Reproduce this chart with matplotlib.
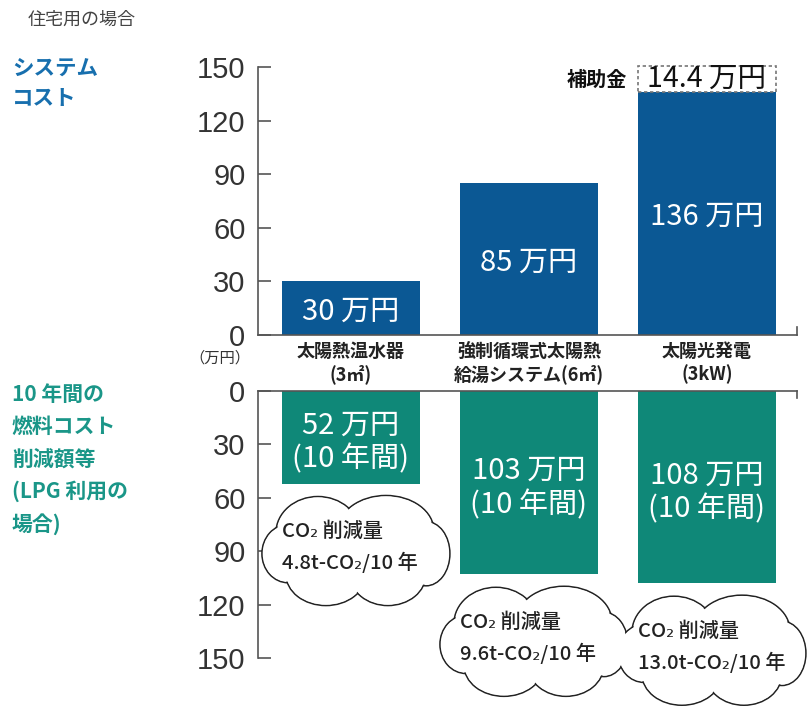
import matplotlib.pyplot as plt
from matplotlib.patches import Ellipse

plt.rcParams['font.family'] = ['Noto Sans CJK JP', 'DejaVu Sans']

# data
categories = ['太陽熱温水器\n(3㎡)', '強制循環式太陽熱\n給湯システム(6㎡)', '太陽光発電\n(3kW)']
system_cost = [30, 85, 136]          # 万円
subsidy = [0, 0, 14.4]               # 万円, dashed box on top
fuel_saving = [52, 103, 108]         # 万円 over 10 years
co2_cut = ['4.8', '9.6', '13.0']     # t-CO2 / 10 years
yticks = [0, 30, 60, 90, 120, 150]

BLUE = '#0b5894'
TEAL = '#0f8878'
AXIS = '#555555'
W, H = 808, 720


def fx(px):
    return px / W


def fy(py):
    return 1 - py / H


fig = plt.figure(figsize=(W / 100, H / 100), dpi=100)
ax1 = fig.add_axes([fx(258), fy(335), fx(797) - fx(258), fy(67) - fy(335)])
ax2 = fig.add_axes([fx(258), fy(658), fx(797) - fx(258), fy(391) - fy(658)])

x = list(range(len(categories)))
bw = 0.775
xlim = (-0.522, 2.506)

# ---- upper panel: system cost
ax1.bar(x, system_cost, bw, color=BLUE, zorder=2)
for i, (v, s) in enumerate(zip(system_cost, subsidy)):
    ax1.text(i, v / 2 - 2, f'{v} 万円', color='white', fontsize=21,
             ha='center', va='center', zorder=3)
    if s > 0:
        ax1.bar(i, s, bw, bottom=v, facecolor='white', edgecolor='#777777',
                linestyle=(0, (2.0, 1.6)), linewidth=1.2, clip_on=False, zorder=2)
        ax1.text(i, v + s / 2, f'{s} 万円', color='#111111', fontsize=20.5,
                 ha='center', va='center', zorder=3, clip_on=False)
        ax1.text(i - bw / 2 - 0.06, v + s / 2, '補助金', color='#111111',
                 fontsize=14.5, fontweight='bold', ha='right', va='center')

ax1.set_xlim(xlim)
ax1.set_ylim(0, 150)
ax1.set_xticks(x, categories, fontsize=13, fontweight='bold', color='#222222',
               linespacing=1.2)
ax1.tick_params(axis='x', length=0, pad=5)
ax1.set_yticks(yticks, [str(t) for t in yticks], fontfamily='Liberation Sans')
ax1.tick_params(axis='y', direction='in', length=9, width=1.2, color=AXIS,
                labelsize=21, labelcolor='#333333', pad=9)
for k in ['top', 'right']:
    ax1.spines[k].set_visible(False)
for k in ['left', 'bottom']:
    ax1.spines[k].set_color(AXIS)
    ax1.spines[k].set_linewidth(1.2)
ax1.plot([1, 1], [0, 0.028], transform=ax1.transAxes, color=AXIS, lw=1.2,
         clip_on=False)

# ---- lower panel: 10-year fuel cost saving
ax2.bar(x, fuel_saving, bw, color=TEAL, zorder=2)
for i, v in enumerate(fuel_saving):
    ax2.text(i, v / 2 + 3, f'{v} 万円\n(10 年間)', color='white', fontsize=21,
             ha='center', va='center', linespacing=1.15, zorder=3)
ax2.set_xlim(xlim)
ax2.set_ylim(150, 0)
ax2.set_xticks([])
ax2.set_yticks(yticks, [str(t) for t in yticks], fontfamily='Liberation Sans')
ax2.tick_params(axis='y', direction='in', length=9, width=1.2, color=AXIS,
                labelsize=21, labelcolor='#333333', pad=9)
for k in ['bottom', 'right']:
    ax2.spines[k].set_visible(False)
for k in ['left', 'top']:
    ax2.spines[k].set_color(AXIS)
    ax2.spines[k].set_linewidth(1.2)
ax2.plot([1, 1], [1, 1 - 0.028], transform=ax2.transAxes, color=AXIS, lw=1.2,
         clip_on=False)

# ---- CO2 clouds (overlay in pixel space)
axo = fig.add_axes([0, 0, 1, 1], zorder=5)
axo.set_xlim(0, W)
axo.set_ylim(0, H)
axo.axis('off')

# (dx, dy, width, height) of each puff, for a 190 x 104 cloud
lobes = [(0, 0, 160, 76), (-38, 18, 84, 70), (30, 20, 96, 68),
         (-68, -2, 52, 56), (70, -2, 48, 62),
         (-30, -22, 80, 60), (32, -22, 76, 60)]


def cloud(cx, cy, w=190, h=108):
    sx, sy = w / 190, h / 104
    for shrink, z in [(0, 2), (2.2, 3)]:
        for dx, dy, ew, eh in lobes:
            e = Ellipse((cx + dx * sx, cy + dy * sy), ew * sx - shrink, eh * sy - shrink,
                        facecolor='white', zorder=z,
                        edgecolor='#222222' if shrink == 0 else 'none',
                        linewidth=1.1 if shrink == 0 else 0, clip_on=False)
            axo.add_patch(e)


for i, v in enumerate(fuel_saving):
    px, py = ax2.transData.transform((i, v))
    cx, cy = px + 5, py - 68
    cloud(cx, cy)
    axo.text(cx - 74, cy + 20, 'CO₂ 削減量', fontsize=14.5, color='#222222',
             fontweight='medium', ha='left', va='center', zorder=4)
    axo.text(cx - 74, cy - 11, f'{co2_cut[i]}t-CO₂/10 年', fontsize=14.5,
             fontweight='medium', color='#222222', ha='left', va='center', zorder=4)

# ---- side labels
fig.text(fx(28), fy(20), '住宅用の場合', fontsize=13, color='#444444', va='center')
for k, line in enumerate(['システム', 'コスト']):
    fig.text(fx(12), fy(68 + 30 * k), line, fontsize=15.5, fontweight='bold',
             color='#176fae', va='center')
for k, line in enumerate(['10 年間の', '燃料コスト', '削減額等', '(LPG 利用の', '場合)']):
    fig.text(fx(12), fy(394 + 32.5 * k), line, fontsize=15, fontweight='bold',
             color='#1a9688', va='center')
fig.text(fx(250), fy(358), '（万円）', fontsize=11, color='#333333',
         ha='right', va='center')

fig.savefig('out.png', dpi=100)
